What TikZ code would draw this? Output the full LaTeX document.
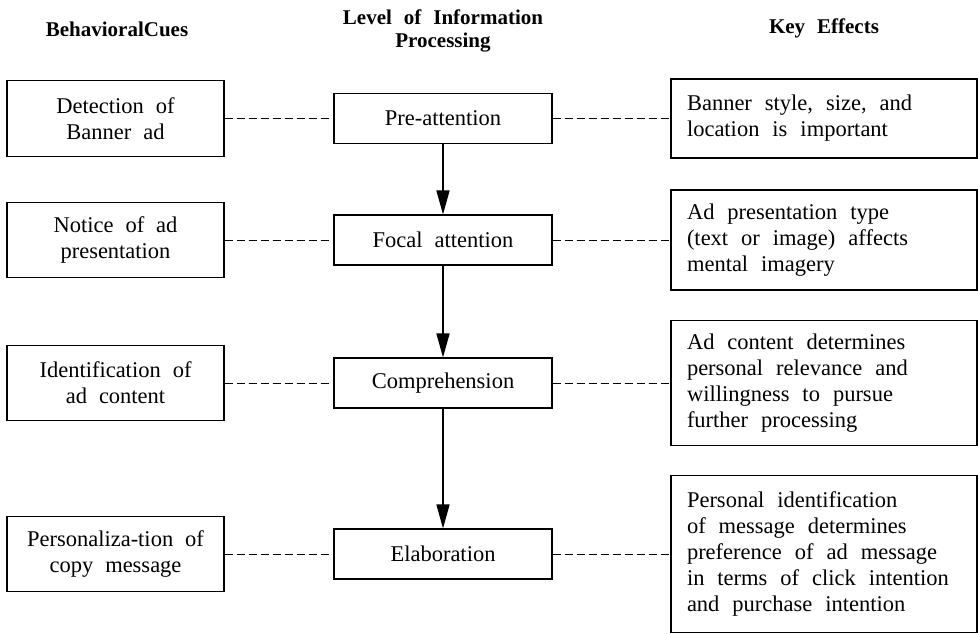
\documentclass[tikz,border=0pt]{standalone}
\usepackage{fontspec}
\setmainfont{Liberation Serif}
\usepackage{tikz}
\usetikzlibrary{arrows.meta}
\newcommand{\boxfont}{\fontsize{22.5}{26}\selectfont}
\newcommand{\effectfont}{\fontsize{22.5}{26}\selectfont}
\newcommand{\headfont}{\fontsize{21}{23}\selectfont\bfseries}

\begin{document}
\begin{tikzpicture}[x=1pt, y=-1pt,
    widespace/.style={execute at begin node={\spaceskip=#1 plus 2pt minus 1pt\relax}},
    cuebox/.style={draw, line width=1.1pt, font=\boxfont, align=center, widespace=12pt, inner sep=0pt, minimum width=217pt, minimum height=75pt},
    levelbox/.style={draw, line width=1.1pt, font=\boxfont, align=center, widespace=12pt, inner sep=0pt, minimum width=218pt, minimum height=50pt},
    effectbox/.style={draw, line width=1.1pt, font=\effectfont, align=left, widespace=13pt, text width=274pt, inner xsep=16pt, inner ysep=0pt, minimum width=306pt},
    headtext/.style={font=\headfont, align=center, widespace=12pt},
    link/.style={line width=0.7pt, dash pattern=on 8pt off 4pt},
    flow/.style={-{Triangle[length=24pt, width=13pt]}, line width=1.5pt}]
  \useasboundingbox (0,0) rectangle (978,633);
  % column titles
  \node[headtext] (hcue) at (117,29) {BehavioralCues};
  \node[headtext] (hlevel) at (443,31) {Level of Information\\Processing};
  \node[headtext] (heffect) at (824,28) {Key Effects};
  % behavioral cues
  \node[cuebox, minimum height=76pt] (c1) at (115.5,118.5) {Detection of\\Banner ad};
  \node[cuebox] (c2) at (115.5,240) {Notice of ad\\presentation};
  \node[cuebox] (c3) at (115.5,383) {Identification of\\ad content};
  \node[cuebox] (c4) at (115.5,554) {Personaliza-tion of\\copy message};
  % levels
  \node[levelbox] (l1) at (443,118.5) {Pre-attention};
  \node[levelbox] (l2) at (443,240) {Focal attention};
  \node[levelbox] (l3) at (443,383) {Comprehension};
  \node[levelbox] (l4) at (443,554) {Elaboration};
  % key effects
  \node[effectbox, minimum height=79pt] (e1) at (824,118.5) {Banner style, size, and\\location is important};
  \node[effectbox, minimum height=100pt] (e2) at (824,240) {Ad presentation type\\(text or image) affects\\mental imagery};
  \node[effectbox, minimum height=125pt] (e3) at (824,383) {Ad content determines\\personal relevance and\\willingness to pursue\\further processing};
  \node[effectbox, minimum height=157pt] (e4) at (824,554) {Personal identification\\of message determines\\preference of ad message\\in terms of click intention\\and purchase intention};
  % dashed links
  \draw[link] (c1) -- (l1);
  \draw[link] (l1) -- (e1);
  \draw[link] (c2) -- (l2);
  \draw[link] (l2) -- (e2);
  \draw[link] (c3) -- (l3);
  \draw[link] (l3) -- (e3);
  \draw[link] (c4) -- (l4);
  \draw[link] (l4) -- (e4);
  % processing flow
  \draw[flow] (l1) -- (l2);
  \draw[flow] (l2) -- (l3);
  \draw[flow] (l3) -- (l4);
\end{tikzpicture}
\end{document}
